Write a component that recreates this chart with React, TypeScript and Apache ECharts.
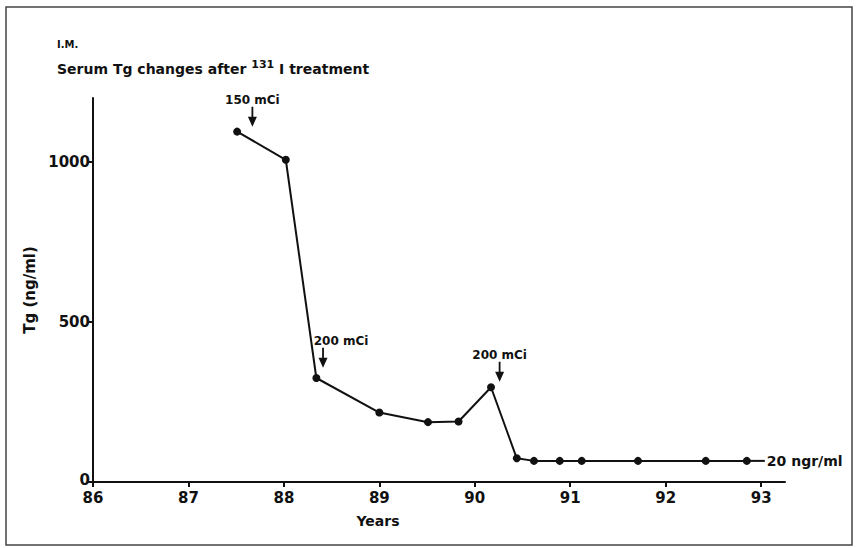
import React, { useEffect, useRef } from 'react';
import * as echarts from 'echarts';

// Data
const years = [87.51, 88.02, 88.34, 89.0, 89.51, 89.83, 90.17, 90.44, 90.62, 90.89, 91.12, 91.71, 92.42, 92.85];
const tg = [1095, 1007, 325, 217, 187, 189, 296, 74, 66, 66, 66, 66, 66, 66];
const doseYears = [87.67, 88.41, 90.26];
const doseTips = [1110, 357, 313];
const doseLabels = ['150 mCi', '200 mCi', '200 mCi'];
const xTicks = [86, 87, 88, 89, 90, 91, 92, 93];
const yTicks = [0, 500, 1000];
const finalLabel = '20 ngr/ml';

const INK = '#111';
const FONT = '"DejaVu Sans", "Liberation Sans", Arial, sans-serif';

export default function App() {
  const ref = useRef<HTMLDivElement>(null);
  useEffect(() => {
    if (!ref.current) return;
    const chart = echarts.init(ref.current, undefined, { renderer: 'svg' });
    const labelOffsets = [[0, 0], [18, 0], [0, 0]];
    const option: any = {
      animation: false,
      backgroundColor: '#fff',
      textStyle: { fontFamily: FONT },
      title: [
        {
          text: 'I.M.',
          left: 52,
          top: 34,
          textStyle: { fontSize: 10, fontWeight: 'bold', color: INK, fontFamily: FONT },
        },
        {
          text: '{b|Serum Tg changes after }{s|131}{b| I treatment}',
          left: 52,
          top: 54,
          textStyle: {
            rich: {
              b: { fontSize: 14, fontWeight: 'bold', color: INK, fontFamily: FONT, verticalAlign: 'bottom' },
              s: { fontSize: 11, fontWeight: 'bold', color: INK, fontFamily: FONT, verticalAlign: 'top', padding: [0, 0, 6, 0] },
            },
          },
        },
      ],
      graphic: [
        {
          type: 'rect',
          shape: { x: 6, y: 7, width: 846, height: 538 },
          style: { fill: 'none', stroke: '#444', lineWidth: 1.5 },
          silent: true,
        },
      ],
      grid: { left: 93, right: 75, top: 98, bottom: 66, outerBoundsMode: 'none', containLabel: false },
      xAxis: {
        type: 'value',
        min: 86,
        max: 93.25,
        interval: 1,
        name: 'Years',
        nameLocation: 'middle',
        nameGap: 32,
        nameTextStyle: { fontSize: 14, fontWeight: 'bold', color: INK, fontFamily: FONT, padding: [0, 122, 0, 0] },
        axisLine: { lineStyle: { color: INK, width: 2 } },
        axisTick: { show: true, customValues: xTicks, length: 5, lineStyle: { color: INK, width: 2 } },
        axisLabel: { customValues: xTicks, fontSize: 15, fontWeight: 'bold', color: INK, fontFamily: FONT, margin: 8 },
        splitLine: { show: false },
      },
      yAxis: {
        type: 'value',
        min: 0,
        max: 1200,
        interval: 500,
        name: 'Tg (ng/ml)',
        nameLocation: 'middle',
        nameGap: 50,
        nameRotate: 90,
        nameTextStyle: { fontSize: 15, fontWeight: 'bold', color: INK, fontFamily: FONT },
        axisLine: { show: true, lineStyle: { color: INK, width: 2 } },
        axisTick: { show: true, customValues: yTicks, length: 5, lineStyle: { color: INK, width: 2 } },
        axisLabel: {
          customValues: yTicks,
          fontSize: 15,
          fontWeight: 'bold',
          color: INK,
          fontFamily: FONT,
          margin: 3,
          formatter: (v: number) => (v === 0 ? '{z|0}' : String(v)),
          rich: { z: { fontSize: 15, fontWeight: 'bold', color: INK, fontFamily: FONT, padding: [0, 0, 4, 0] } },
        },
        splitLine: { show: false },
      },
      series: [
        {
          type: 'line',
          data: years.map((x, i) => [x, tg[i]]),
          symbol: 'circle',
          symbolSize: 8,
          lineStyle: { color: INK, width: 2 },
          itemStyle: { color: INK, opacity: 1 },
          endLabel: {
            show: true,
            distance: 0,
            formatter: '{d| }{t|' + finalLabel + '}',
            rich: {
              d: { width: 18, height: 2, backgroundColor: INK },
              t: { fontSize: 14, fontWeight: 'bold', color: INK, fontFamily: FONT, padding: [0, 0, 0, 2] },
            },
          },
          z: 3,
        },
        {
          type: 'scatter',
          data: doseYears.map((x, i) => ({
            value: [x, doseTips[i]],
            label: { offset: labelOffsets[i] },
          })),
          symbol: 'path://M4,0L6,0L6,11L10,11L5,22L0,11L4,11Z',
          symbolSize: [9, 20],
          symbolOffset: [0, '-50%'],
          itemStyle: { color: INK, opacity: 1 },
          label: {
            show: true,
            position: 'top',
            distance: 1,
            formatter: (p: any) => doseLabels[p.dataIndex],
            fontSize: 12,
            fontWeight: 'bold',
            color: INK,
            fontFamily: FONT,
          },
          z: 4,
        },
      ],
    };
    chart.setOption(option);
    return () => chart.dispose();
  }, []);
  return <div ref={ref} style={{ position: 'fixed', left: 0, top: 0, width: 860, height: 548 }} />;
}
